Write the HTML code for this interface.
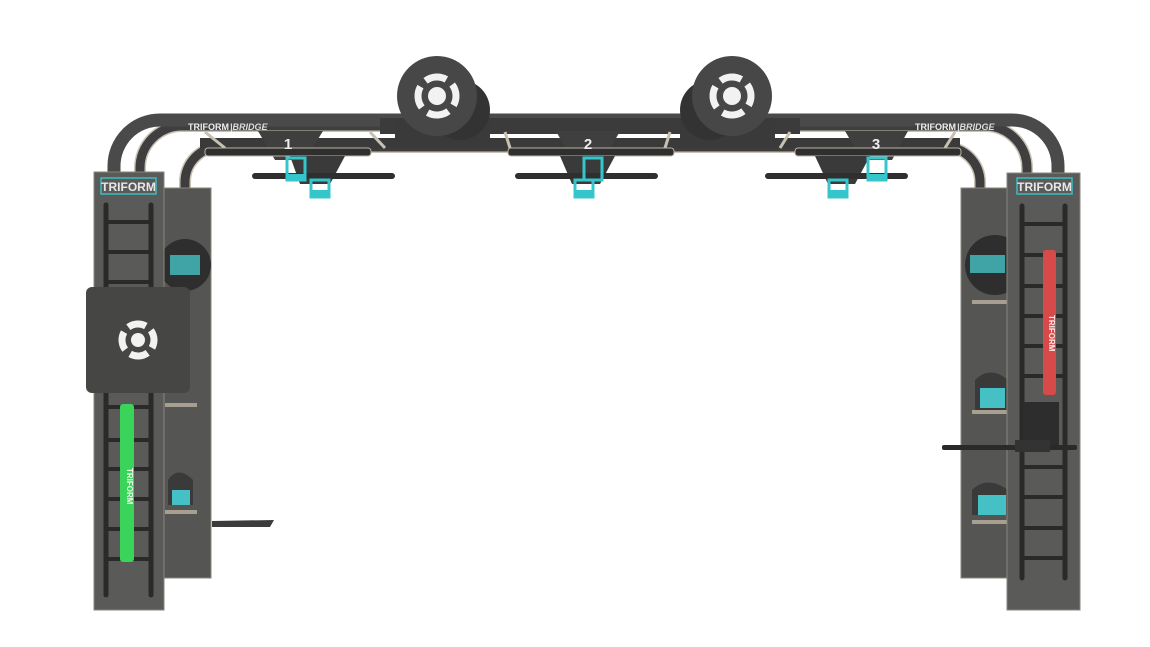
<!DOCTYPE html>
<html><head><meta charset="utf-8"><style>
html,body{margin:0;padding:0;background:#fff;width:1150px;height:647px;overflow:hidden}
svg{display:block}
text{font-family:"Liberation Sans",sans-serif;font-weight:bold}
</style></head><body>
<svg width="1150" height="647" viewBox="0 0 1150 647" xmlns="http://www.w3.org/2000/svg">
<!-- back curved rails -->
<path d="M185 190 L185 182 A35 35 0 0 1 220 147 L945 147 A35 35 0 0 1 980 182 L980 190" fill="none" stroke="#c9c2b4" stroke-width="12"/>
<path d="M185 190 L185 182 A35 35 0 0 1 220 147 L945 147 A35 35 0 0 1 980 182 L980 190" fill="none" stroke="#3d3d3d" stroke-width="9"/>
<path d="M140 175 L140 168 A42 42 0 0 1 182 126 L985 126 A42 42 0 0 1 1027 168 L1027 175" fill="none" stroke="#c9c2b4" stroke-width="12"/>
<path d="M140 175 L140 168 A42 42 0 0 1 182 126 L985 126 A42 42 0 0 1 1027 168 L1027 175" fill="none" stroke="#3f3f3f" stroke-width="9"/>
<!-- main rail -->
<path d="M114 175 L114 166 A46 46 0 0 1 160 120 L1012 120 A46 46 0 0 1 1058 166 L1058 175" fill="none" stroke="#4a4a4a" stroke-width="13"/>
<rect x="380" y="118" width="420" height="16" fill="#3b3b3b"/>
<rect x="200" y="138" width="760" height="10" fill="#3a3a3a"/>
<!-- struts -->
<g stroke="#c8c0b0" stroke-width="3">
<line x1="205" y1="132" x2="225" y2="148"/><line x1="370" y1="132" x2="385" y2="148"/>
<line x1="505" y1="132" x2="510" y2="148"/><line x1="670" y1="132" x2="665" y2="148"/>
<line x1="790" y1="132" x2="780" y2="148"/><line x1="955" y1="132" x2="945" y2="148"/>
</g>
<!-- discs -->
<g>
<rect x="395" y="118" width="95" height="30" fill="#3a3a3a"/>
<circle cx="460" cy="110" r="30" fill="#333"/>
<circle cx="437" cy="96" r="40" fill="#474747"/>
<circle cx="437" cy="96" r="19" fill="none" stroke="#f2f2f2" stroke-width="7" stroke-dasharray="22 7.8" transform="rotate(-37 437 96)"/>
<circle cx="437" cy="96" r="9" fill="#f2f2f2"/>
<rect x="680" y="118" width="95" height="30" fill="#3a3a3a"/>
<circle cx="710" cy="110" r="30" fill="#333"/>
<circle cx="732" cy="96" r="40" fill="#474747"/>
<circle cx="732" cy="96" r="19" fill="none" stroke="#f2f2f2" stroke-width="7" stroke-dasharray="22 7.8" transform="rotate(-37 732 96)"/>
<circle cx="732" cy="96" r="9" fill="#f2f2f2"/>
</g>
<!-- stations -->
<g>
<polygon points="258,131 323,131 305,160 275,160" fill="#3f3f3f"/>
<rect x="205" y="148" width="166" height="8" rx="3" fill="#2f2f2f" stroke="#bdb5a5" stroke-width="1"/>
<text x="288" y="149" font-size="15" fill="#eee" text-anchor="middle">1</text>
<polygon points="290,156 345,156 330,184 300,184" fill="#3a3a3a"/>
<rect x="252" y="173" width="143" height="6" rx="3" fill="#2f2f2f"/>
<rect x="287" y="158" width="18" height="22" fill="none" stroke="#35c6cc" stroke-width="3"/>
<rect x="286" y="174" width="20" height="7" fill="#35c6cc"/>
<rect x="311" y="180" width="18" height="17" fill="none" stroke="#35c6cc" stroke-width="3"/>
<rect x="310" y="190" width="20" height="7" fill="#35c6cc"/>
</g>
<g>
<polygon points="556,131 620,131 604,160 572,160" fill="#3f3f3f"/>
<rect x="508" y="148" width="166" height="8" rx="3" fill="#2f2f2f" stroke="#bdb5a5" stroke-width="1"/>
<text x="588" y="149" font-size="15" fill="#eee" text-anchor="middle">2</text>
<polygon points="560,156 615,156 600,184 572,184" fill="#3a3a3a"/>
<rect x="515" y="173" width="143" height="6" rx="3" fill="#2f2f2f"/>
<rect x="584" y="158" width="18" height="22" fill="none" stroke="#35c6cc" stroke-width="3"/>
<rect x="575" y="180" width="18" height="17" fill="none" stroke="#35c6cc" stroke-width="3"/>
<rect x="574" y="190" width="20" height="7" fill="#35c6cc"/>
</g>
<g>
<polygon points="845,131 908,131 892,160 862,160" fill="#3f3f3f"/>
<rect x="795" y="148" width="166" height="8" rx="3" fill="#2f2f2f" stroke="#bdb5a5" stroke-width="1"/>
<text x="876" y="149" font-size="15" fill="#eee" text-anchor="middle">3</text>
<polygon points="815,156 870,156 855,184 828,184" fill="#3a3a3a"/>
<rect x="765" y="173" width="143" height="6" rx="3" fill="#2f2f2f"/>
<rect x="868" y="158" width="18" height="22" fill="none" stroke="#35c6cc" stroke-width="3"/>
<rect x="867" y="174" width="20" height="7" fill="#35c6cc"/>
<rect x="829" y="180" width="18" height="17" fill="none" stroke="#35c6cc" stroke-width="3"/>
<rect x="828" y="190" width="20" height="7" fill="#35c6cc"/>
</g>
<text x="188" y="130" font-size="9" fill="#eee">TRIFORM</text><text x="230" y="130" font-size="9" fill="#ddd" font-style="italic" font-weight="normal">|BRIDGE</text>
<text x="915" y="130" font-size="9" fill="#eee">TRIFORM</text><text x="957" y="130" font-size="9" fill="#ddd" font-style="italic" font-weight="normal">|BRIDGE</text>

<!-- LEFT back tower -->
<rect x="163" y="188" width="48" height="390" fill="#555553" stroke="#8a857c" stroke-width="1"/>
<circle cx="185" cy="265" r="26" fill="#2e2e2e"/><rect x="170" y="255" width="30" height="20" fill="#45c0c4" opacity=".8"/>
<rect x="165" y="403" width="32" height="4" fill="#a79f90"/>
<rect x="165" y="510" width="32" height="4" fill="#a79f90"/>
<path d="M168 480 q10 -15 25 0 l0 25 l-25 0z" fill="#3a3a3a"/><rect x="172" y="490" width="18" height="15" fill="#45c0c4"/>
<polygon points="212,521 274,520 270,527 212,527" fill="#3c3c3c"/>
<!-- LEFT front tower -->
<rect x="94" y="172" width="70" height="438" fill="#5a5a58" stroke="#8a857c" stroke-width="1"/>
<rect x="101" y="178" width="55" height="16" fill="none" stroke="#3bbdc2" stroke-width="1.5"/>
<text x="128.5" y="191" font-size="12" fill="#e8e8e8" text-anchor="middle">TRIFORM</text>
<g stroke="#2a2a2a" stroke-width="5" stroke-linecap="round">
<line x1="106" y1="205" x2="106" y2="595"/><line x1="151" y1="205" x2="151" y2="595"/></g>
<g fill="#2a2a2a"><rect x="106" y="220" width="45" height="4"/><rect x="106" y="250" width="45" height="4"/><rect x="106" y="280" width="45" height="4"/><rect x="106" y="405" width="45" height="4"/><rect x="106" y="438" width="45" height="4"/><rect x="106" y="467" width="45" height="4"/><rect x="106" y="497" width="45" height="4"/><rect x="106" y="527" width="45" height="4"/><rect x="106" y="557" width="45" height="4"/></g>
<rect x="120" y="404" width="14" height="158" rx="3" fill="#3ad45a"/>
<text x="127" y="468" font-size="8" fill="#eafbe8" transform="rotate(90 127 468)">TRIFORM</text>
<rect x="86" y="287" width="104" height="106" rx="6" fill="#464644"/>
<circle cx="138" cy="340" r="16" fill="none" stroke="#f2f2f2" stroke-width="7" stroke-dasharray="18.5 6.6" transform="rotate(-37 138 340)"/>
<circle cx="138" cy="340" r="7" fill="#f2f2f2"/>

<!-- RIGHT back tower -->
<rect x="961" y="188" width="47" height="390" fill="#555553" stroke="#8a857c" stroke-width="1"/>
<circle cx="995" cy="265" r="30" fill="#2e2e2e"/><rect x="970" y="255" width="35" height="18" fill="#45c0c4" opacity=".8"/>
<rect x="972" y="300" width="36" height="4" fill="#a79f90"/>
<path d="M975 380 q15 -15 33 0 l0 30 l-33 0z" fill="#3a3a3a"/><rect x="980" y="388" width="25" height="20" fill="#45c0c4"/>
<rect x="972" y="410" width="36" height="4" fill="#a79f90"/>
<path d="M972 490 q15 -15 36 0 l0 25 l-36 0z" fill="#3a3a3a"/><rect x="978" y="495" width="28" height="20" fill="#45c0c4"/>
<rect x="972" y="520" width="36" height="4" fill="#a79f90"/>
<!-- RIGHT front tower -->
<rect x="1007" y="173" width="73" height="437" fill="#5a5a58" stroke="#8a857c" stroke-width="1"/>
<rect x="1017" y="178" width="55" height="16" fill="none" stroke="#3bbdc2" stroke-width="1.5"/>
<text x="1044.5" y="191" font-size="12" fill="#e8e8e8" text-anchor="middle">TRIFORM</text>
<g stroke="#2a2a2a" stroke-width="5" stroke-linecap="round">
<line x1="1022" y1="206" x2="1022" y2="578"/><line x1="1065" y1="206" x2="1065" y2="578"/></g>
<g fill="#2a2a2a"><rect x="1022" y="222" width="43" height="4"/><rect x="1022" y="253" width="43" height="4"/><rect x="1022" y="284" width="43" height="4"/><rect x="1022" y="314" width="43" height="4"/><rect x="1022" y="344" width="43" height="4"/><rect x="1022" y="374" width="43" height="4"/><rect x="1022" y="465" width="43" height="4"/><rect x="1022" y="495" width="43" height="4"/><rect x="1022" y="526" width="43" height="4"/><rect x="1022" y="556" width="43" height="4"/></g>
<rect x="1043" y="250" width="13" height="145" rx="3" fill="#d64a4a"/>
<text x="1049" y="315" font-size="8" fill="#fbeaea" transform="rotate(90 1049 315)">TRIFORM</text>
<rect x="1023" y="402" width="36" height="45" fill="#2d2d2d"/>
<rect x="942" y="445" width="135" height="5" rx="2" fill="#2a2a2a"/>
<rect x="1015" y="440" width="35" height="12" fill="#333"/>
</svg>
</body></html>
